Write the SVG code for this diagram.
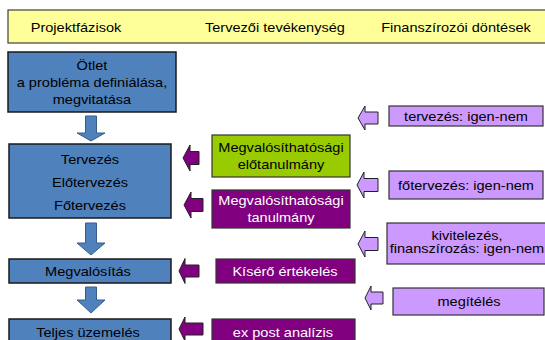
<svg xmlns="http://www.w3.org/2000/svg" width="545" height="340" viewBox="0 0 545 340">
<style>
text{font-family:"Liberation Sans",Arial,sans-serif;font-size:13px;text-anchor:middle;fill:#000;transform-box:fill-box;transform-origin:center;transform:scaleX(1.12)}
.hdr{fill:#FFFF99;stroke:#404040;stroke-width:1.2}
.blue{fill:#4F81BD;stroke:#1a1a1a;stroke-width:1.5}
.green{fill:#99CC00;stroke:#333;stroke-width:1.2}
.purple{fill:#800080;stroke:#333;stroke-width:1.2}
.lilac{fill:#CC99FF;stroke:#333;stroke-width:1.2}
.w{fill:#fff}
.dn{fill:#4F81BD;stroke:#385D8A;stroke-width:1}
.pa{fill:#800080;stroke:#222;stroke-width:1}
.la{fill:#CC99FF;stroke:#222;stroke-width:1}
</style>
<rect width="545" height="340" fill="#fff"/>
<g id="header">
<rect class="hdr" x="8" y="10" width="545" height="33"/>
<text x="76" y="32">Projektfázisok</text>
<text x="275" y="32">Tervezői tevékenység</text>
<text x="456" y="32">Finanszírozói döntések</text>
</g>
<g id="otlet">
<rect class="blue" x="8" y="52" width="168" height="60"/>
<text x="92" y="70">Ötlet</text>
<text x="92" y="87">a probléma definiálása,</text>
<text x="92" y="104">megvitatása</text>
</g>
<g id="tervezes">
<rect class="blue" x="9" y="144" width="162" height="74"/>
<text x="90" y="164">Tervezés</text>
<text x="90" y="187">Előtervezés</text>
<text x="90" y="210">Főtervezés</text>
</g>
<g id="megvalositas">
<rect class="blue" x="9" y="259" width="162" height="24"/>
<text x="88" y="276">Megvalósítás</text>
</g>
<g id="uzemeles">
<rect class="blue" x="9" y="319" width="162" height="30"/>
<text x="88" y="337">Teljes üzemelés</text>
</g>
<g id="elotanulmany">
<rect class="green" x="212" y="135" width="138" height="42"/>
<text x="281" y="152">Megvalósíthatósági</text>
<text x="281" y="169">előtanulmány</text>
</g>
<g id="tanulmany">
<rect class="purple" x="212" y="190" width="138" height="38"/>
<text class="w" x="281" y="205">Megvalósíthatósági</text>
<text class="w" x="281" y="222">tanulmány</text>
</g>
<g id="kisero">
<rect class="purple" x="216" y="259" width="139" height="24"/>
<text class="w" x="285" y="276">Kísérő értékelés</text>
</g>
<g id="expost">
<rect class="purple" x="212" y="319" width="143" height="30"/>
<text class="w" x="283" y="337">ex post analízis</text>
</g>
<g id="tervezes-dontes">
<rect class="lilac" x="389" y="106" width="154" height="20"/>
<text x="466" y="121">tervezés: igen-nem</text>
</g>
<g id="fotervezes-dontes">
<rect class="lilac" x="389" y="171" width="154" height="28"/>
<text x="466" y="190">főtervezés: igen-nem</text>
</g>
<g id="kivitelezes-dontes">
<rect class="lilac" x="387" y="223" width="162" height="41"/>
<text x="467" y="240">kivitelezés,</text>
<text x="467" y="253">finanszírozás: igen-nem</text>
</g>
<g id="megiteles">
<rect class="lilac" x="393" y="288" width="151" height="27"/>
<text x="469" y="306">megítélés</text>
</g>
<g id="connectors">
<polygon class="dn" points="85.5,116 96.5,116 96.5,133 105,133 91,141 77,133 85.5,133"/>
<polygon class="dn" points="85.5,223 96.5,223 96.5,243 105,243 91,255 77,243 85.5,243"/>
<polygon class="dn" points="85.5,287 96.5,287 96.5,300 105,300 91,313 77,300 85.5,300"/>
<polygon class="pa" points="183,158 190,145 190,151.5 199,151.5 199,164.5 190,164.5 190,171"/>
<polygon class="pa" points="184,205 191,192 191,198.5 203,198.5 203,211.5 191,211.5 191,218"/>
<polygon class="pa" points="179,271 185,258.5 185,265 199,265 199,277 185,277 185,283.5"/>
<polygon class="pa" points="179,329 185,317 185,323 203,323 203,335 185,335 185,341"/>
<polygon class="la" points="358,118 365,106 365,112 378,112 378,124 365,124 365,130"/>
<polygon class="la" points="357,185 364,172 364,178.5 378,178.5 378,191.5 364,191.5 364,198"/>
<polygon class="la" points="358,244 365,231 365,237.5 378,237.5 378,250.5 365,250.5 365,257"/>
<polygon class="la" points="365,298 371,286 371,292 383,292 383,304 371,304 371,310"/>
</g>
</svg>
